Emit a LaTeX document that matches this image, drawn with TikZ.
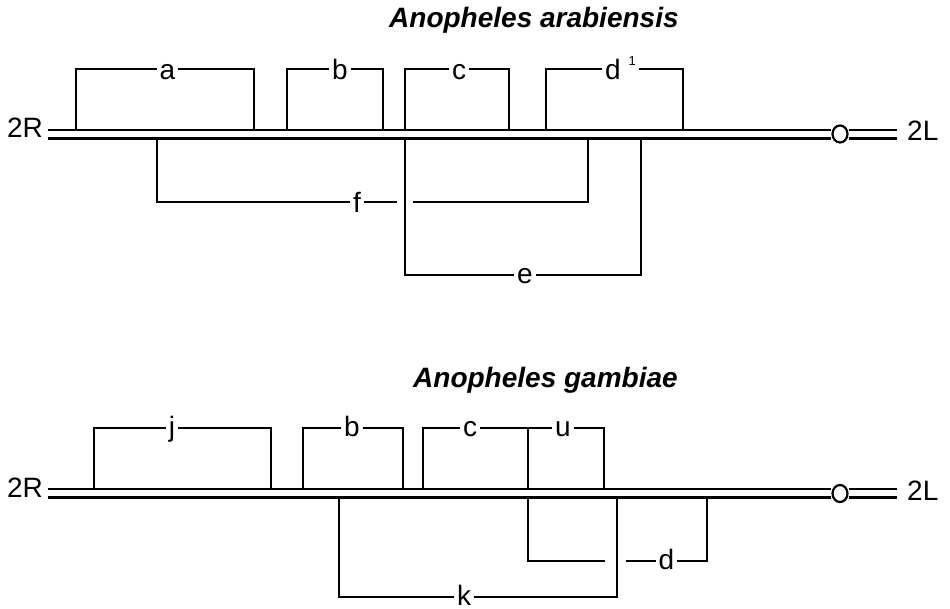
\documentclass[tikz,border=0pt]{standalone}
\usepackage{fontspec}
\setmainfont{Liberation Sans}
\usetikzlibrary{shapes.geometric}

% one inversion bracket: name, left x, right x, label x, bracket y, chromosome y, label text, label style
\newcommand\invup[8]{%
  \node[#8] (#1) at (#4,#5) {#7};
  \coordinate (#1-l) at (#2,#6);
  \coordinate (#1-r) at (#3,#6);
  \draw[arm] (#1-l) |- (#1.west) (#1.east) -| (#1-r);}

\begin{document}
\begin{tikzpicture}[x=1pt,y=-1pt,
  arm/.style={line width=2.3pt},
  chrom/.style={line width=2.4pt},
  lab/.style={font=\fontsize{28}{28}\selectfont, text height=22pt, text depth=0pt,
              inner xsep=3pt, inner ysep=0pt},
  labl/.style={lab, text height=17pt},
  armname/.style={font=\fontsize{28}{28}\selectfont, inner sep=0pt},
  cen/.style={draw, ellipse, line width=2.2pt, fill=white, minimum width=15pt,
              minimum height=17pt, inner sep=0pt},
  ttl/.style={font=\fontsize{28}{28}\selectfont\bfseries\itshape, anchor=base west,
              inner sep=0pt}]
\fill[white] (0,0) rectangle (950,609);
\useasboundingbox (0,0) rectangle (950,609);

% ---------------- Anopheles arabiensis ----------------
\node[ttl] (tA) at (389,28) {Anopheles arabiensis};
\node[armname, anchor=base east] (R1) at (43,138) {2R};
\node[armname, anchor=base west] (L1) at (907,141) {2L};

\node[cen] (cen1) at (840,134) {};
\coordinate (u1) at (48,130);
\coordinate (l1) at (48,138.5);
\coordinate (tip1) at (897,134);
\draw[chrom] (u1) -- (u1 -| cen1.west) (l1) -- (l1 -| cen1.west);
\draw[chrom] (u1 -| cen1.east) -- (u1 -| tip1) (l1 -| cen1.east) -- (l1 -| tip1);

\invup{a}{76}{254}{167.5}{69}{130}{a}{lab}
\invup{b}{287}{383}{340}{69}{130}{b}{lab}
\invup{c}{405}{509}{459}{69}{130}{c}{lab}
\invup{d1}{546}{683}{620.5}{69}{130}{d\hspace{8pt}\raisebox{14pt}{\fontsize{13}{13}\selectfont 1}}{lab}
\invup{e}{405}{641}{525}{275}{138.5}{e}{labl}

% f, broken where it crosses e
\node[lab] (f) at (357,202) {f};
\coordinate (f-l) at (157,138.5);
\coordinate (f-r) at (588,138.5);
\coordinate (f-g1) at (397,202);
\coordinate (f-g2) at (413,202);
\draw[arm] (f-l) |- (f.west) (f.east) -- (f-g1) (f-g2) -| (f-r);

% ---------------- Anopheles gambiae ----------------
\node[ttl] (tG) at (413,387) {Anopheles gambiae};
\node[armname, anchor=base east] (R2) at (43,497) {2R};
\node[armname, anchor=base west] (L2) at (907,500) {2L};

\node[cen] (cen2) at (840,493.5) {};
\coordinate (u2) at (48,489);
\coordinate (l2) at (48,497.5);
\coordinate (tip2) at (897,493.5);
\draw[chrom] (u2) -- (u2 -| cen2.west) (l2) -- (l2 -| cen2.west);
\draw[chrom] (u2 -| cen2.east) -- (u2 -| tip2) (l2 -| cen2.east) -- (l2 -| tip2);

\invup{j}{94}{271}{172}{428}{489}{j}{labl}
\invup{b2}{303}{403}{352}{428}{489}{b}{labl}
\invup{c2}{423}{528}{470}{428}{489}{c}{labl}
\invup{u}{528}{604}{563}{428}{489}{u}{labl}
\invup{k}{339}{617}{464}{597}{497.5}{k}{labl}

% d, broken where it crosses k
\node[labl] (d2) at (666.5,561) {d};
\coordinate (d2-l) at (528,497.5);
\coordinate (d2-r) at (707,497.5);
\coordinate (d2-g1) at (605,561);
\coordinate (d2-g2) at (626,561);
\draw[arm] (d2-l) |- (d2-g1) (d2-g2) -- (d2.west) (d2.east) -| (d2-r);
\end{tikzpicture}
\end{document}
